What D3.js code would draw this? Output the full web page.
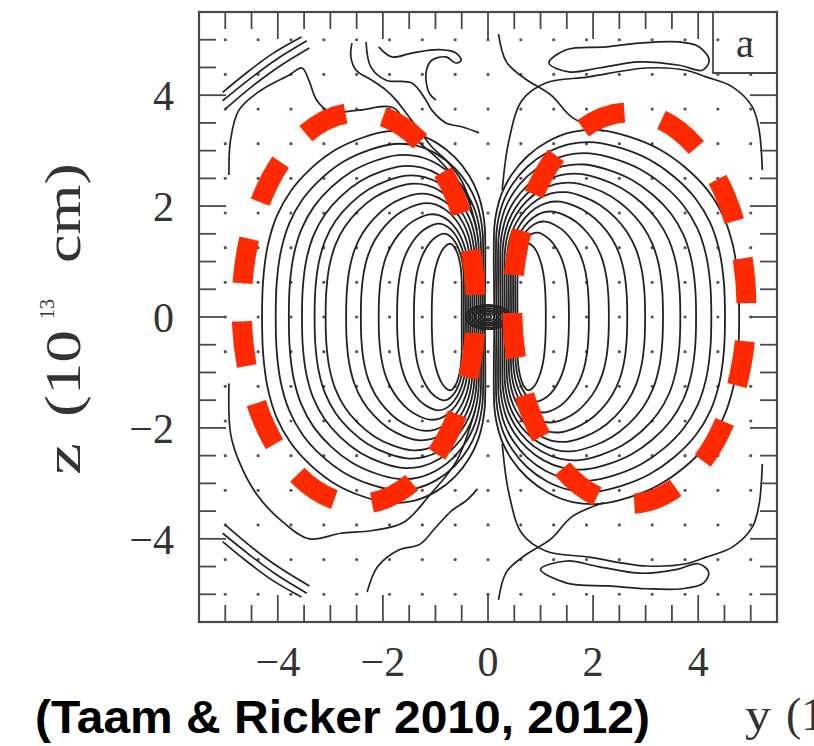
<!DOCTYPE html>
<html><head><meta charset="utf-8">
<script src="https://cdn.jsdelivr.net/npm/d3@7"></script>
<style>html,body{margin:0;padding:0;background:#fff;}svg{display:block;}</style>
</head><body>
<svg id="c" width="814" height="746"></svg>
<script>
// ---------- data (units of 10^13 cm) ----------
const tickValues = [-4, -2, 0, 2, 4];
const minorTicks = [-5,-4.5,-4,-3.5,-3,-2.5,-2,-1.5,-1,-0.5,0,0.5,1,1.5,2,2.5,3,3.5,4,4.5,5];
const dotGrid = [-5,-4.375,-3.75,-3.125,-2.5,-1.875,-1.25,-0.625,0,0.625,1.25,1.875,2.5,3.125,3.75,4.375,5];

// nested lobes: outer extent at z=0, top height, x where lobe joins the central band
const leftOuterX  = [-4.30,-4.04,-3.79,-3.54,-3.30,-3.09,-2.70,-2.42,-2.08,-1.73,-1.41,-1.07];
const leftTop     = [3.35,3.12,2.92,2.72,2.55,2.40,2.22,2.05,1.85,1.68,1.50,1.32];
const leftInnerX  = [-0.06,-0.10,-0.14,-0.18,-0.22,-0.26,-0.30,-0.34,-0.38,-0.42,-0.46,-0.50];
const rightOuterX = [4.78,4.51,4.25,3.96,3.66,3.33,2.99,2.65,2.30,1.92,1.54,1.10];
const rightTop    = [3.37,3.15,2.95,2.75,2.58,2.42,2.25,2.08,1.90,1.72,1.52,1.32];
const rightInnerX = [0.12,0.16,0.20,0.24,0.28,0.32,0.36,0.40,0.44,0.48,0.52,0.56];
// lobe outline (fraction of width from band, fraction of height), upper half
const lobeShape = [[1,0],[0.995,0.2],[0.975,0.38],[0.935,0.54],[0.87,0.68],[0.78,0.8],[0.67,0.9],[0.55,0.965],[0.43,1.0],[0.32,0.99],[0.22,0.94],[0.135,0.86],[0.07,0.76],[0.03,0.66],[0.01,0.57],[0,0.48]];

// central blob
const blobRx = [0.42,0.36,0.30,0.24,0.18,0.12,0.06];
const blobRy = [0.22,0.19,0.16,0.13,0.10,0.07,0.04];

// outer contours (open lines)
const outerLines = [
  [[-5.05,4.05],[-4.6,4.4],[-4.1,4.75],[-3.55,5.05]],
  [[-5.05,3.9],[-4.55,4.28],[-4.05,4.63],[-3.45,4.98]],
  [[-5.0,3.75],[-4.5,4.15],[-4.0,4.5],[-3.4,4.85]],
  [[-5.05,-4.05],[-4.6,-4.4],[-4.1,-4.75],[-3.55,-5.05]],
  [[-5.05,-3.9],[-4.55,-4.28],[-4.05,-4.63],[-3.45,-4.98]],
  [[-5.0,-3.75],[-4.5,-4.15],[-4.0,-4.5],[-3.4,-4.85]],
  [[-4.93,2.56],[-4.90,3.19],[-4.74,3.73],[-4.32,4.09],[-3.79,4.36],[-3.54,4.49],[-3.41,4.27],[-3.26,3.91],[-3.0,3.70],[-2.46,3.73],[-1.79,3.77],[-1.45,3.28],[-0.93,2.83],[-0.46,2.29],[-0.21,1.57]],
  [[-4.93,-1.2],[-4.90,-2.1],[-4.74,-2.6],[-4.4,-3.2],[-3.9,-3.7],[-3.4,-4.0],[-2.8,-3.9],[-2.2,-3.85],[-1.6,-3.7],[-1.1,-3.2],[-0.6,-2.6],[-0.25,-1.7]],
  [[-2.59,4.94],[-2.61,4.69],[-2.51,4.45],[-2.21,4.27],[-1.94,4.09],[-1.75,3.91],[-1.56,3.68],[-1.31,3.37],[-1.07,3.07],[-0.8,2.83],[-0.51,2.47],[-0.32,2.02]],
  [[-2.32,4.96],[-2.23,4.51],[-1.94,4.27],[-1.45,4.22],[-1.18,3.91],[-1.07,3.73],[-0.80,3.50],[-0.50,3.43],[-0.17,3.32]],
  [[-2.08,4.87],[-1.83,4.69],[-1.45,4.76],[-0.93,4.82],[-0.61,4.76],[-0.51,4.63],[-0.61,4.58],[-0.8,4.69],[-1.07,4.63],[-1.18,4.40],[-1.12,4.04],[-0.99,3.91]],
  [[-2.3,-4.96],[-2.1,-4.5],[-1.7,-4.2],[-1.3,-4.1],[-1.0,-3.8],[-0.7,-3.5],[-0.4,-3.3],[-0.2,-3.1]],
  [[5.22,2.65],[5.16,3.37],[5.03,3.79],[4.65,4.15],[4.15,4.33],[3.77,4.45],[3.01,4.49],[1.92,4.33],[1.10,4.22],[0.65,3.91],[0.4,3.19],[0.27,2.29]],
  [[5.22,-2.65],[5.16,-3.37],[5.03,-3.79],[4.65,-4.15],[4.15,-4.33],[3.77,-4.45],[3.01,-4.49],[1.92,-4.33],[1.10,-4.22],[0.65,-3.91],[0.4,-3.19],[0.27,-2.29]],
  [[0.2,5.1],[0.35,4.6],[0.7,4.3],[1.2,4.0],[1.6,3.6],[2.2,3.35]],
  [[0.2,-5.1],[0.35,-4.6],[0.7,-4.3],[1.2,-4.0],[1.6,-3.6],[2.2,-3.35]]
];
// outer closed loops
const outerLoops = [
  [[1.16,4.58],[1.49,4.82],[2.25,4.87],[2.88,4.94],[3.64,4.96],[4.02,4.87],[4.21,4.63],[4.08,4.45],[3.64,4.54],[2.88,4.60],[2.11,4.49],[1.54,4.42]],
  [[1.0,-4.55],[1.5,-4.8],[2.3,-4.85],[3.0,-4.9],[3.7,-4.9],[4.1,-4.8],[4.2,-4.6],[4.0,-4.45],[3.6,-4.55],[2.9,-4.62],[2.1,-4.5],[1.5,-4.4]]
];

// overlay ellipses: centre x, centre z, half-width, half-height
const ringCx = [-2.46, 2.69];
const ringCz = [0.16, 0.16];
const ringRx = [2.23, 2.23];
const ringRz = [3.53, 3.53];
const ringPhase = [-30, -40];

// ---------- drawing ----------
const svg = d3.select("#c");
const x = d3.scaleLinear().domain([-5.5,5.5]).range([199,777]);
const y = d3.scaleLinear().domain([-5.5,5.5]).range([622,12]);
const ink = "#222";
const frameCol = "#4a4a4a";

const g = svg.append("g");
const line = d3.line().x(d=>x(d[0])).y(d=>y(d[1])).curve(d3.curveCatmullRom.alpha(0.5));
const closed = d3.line().x(d=>x(d[0])).y(d=>y(d[1])).curve(d3.curveCatmullRomClosed.alpha(0.5));

// dots
dotGrid.forEach(dx => dotGrid.forEach(dz => {
  g.append("circle").attr("cx", x(dx)).attr("cy", y(dz)).attr("r", 1.6).attr("fill", "#555");
}));

// lobes
function lobe(outer, top, inner, side) {
  const W = Math.abs(outer - inner);
  const upper = lobeShape.map(([u,v]) => [inner + side*u*W, v*top]);
  const lower = lobeShape.map(([u,v]) => [inner + side*u*W, -v*top]).reverse().slice(0,-1);
  return upper.concat([[inner,0]], lower);
}
leftOuterX.forEach((o,i) => {
  g.append("path").attr("d", closed(lobe(o, leftTop[i], leftInnerX[i], -1)))
   .attr("fill","none").attr("stroke",ink).attr("stroke-width",1.8);
});
rightOuterX.forEach((o,i) => {
  g.append("path").attr("d", closed(lobe(o, rightTop[i], rightInnerX[i], 1)))
   .attr("fill","none").attr("stroke",ink).attr("stroke-width",1.8);
});
outerLines.forEach(l => {
  g.append("path").attr("d", line(l)).attr("fill","none").attr("stroke",ink).attr("stroke-width",1.7);
});
outerLoops.forEach(l => {
  g.append("path").attr("d", closed(l)).attr("fill","none").attr("stroke",ink).attr("stroke-width",1.7);
});
blobRx.forEach((r,i) => {
  g.append("ellipse").attr("cx", x(0)).attr("cy", y(0))
   .attr("rx", x(r)-x(0)).attr("ry", y(0)-y(blobRy[i]))
   .attr("fill","none").attr("stroke",ink).attr("stroke-width",1.8);
});

// frame
svg.append("rect").attr("x",199).attr("y",12).attr("width",578).attr("height",610)
  .attr("fill","none").attr("stroke",frameCol).attr("stroke-width",2.2);
// label box
const boxL = 713, boxB = 73;
svg.append("path").attr("d",`M${boxL},12V${boxB}H777`).attr("fill","none").attr("stroke",frameCol).attr("stroke-width",1.8);
svg.append("text").attr("x",745).attr("y",57).attr("text-anchor","middle")
  .attr("font-family","Liberation Serif, serif").attr("font-size",40).attr("fill","#333").text("a");

// ticks
const tk = svg.append("g").attr("stroke",frameCol).attr("stroke-width",1.8);
minorTicks.forEach(t => {
  const L = tickValues.includes(t) ? 27 : 17;
  tk.append("line").attr("x1",x(t)).attr("x2",x(t)).attr("y1",622).attr("y2",622-L);
  if (x(t) < boxL - 2) tk.append("line").attr("x1",x(t)).attr("x2",x(t)).attr("y1",12).attr("y2",12+L);
  tk.append("line").attr("x1",199).attr("x2",199+L).attr("y1",y(t)).attr("y2",y(t));
  if (y(t) > boxB + 2) tk.append("line").attr("x1",777).attr("x2",777-L).attr("y1",y(t)).attr("y2",y(t));
});

// tick labels
const fmt = v => v < 0 ? "\u2212" + Math.abs(v) : String(v);
const lab = svg.append("g").attr("font-family","Liberation Serif, serif").attr("font-size",42).attr("fill","#333");
tickValues.forEach(t => {
  lab.append("text").attr("x", x(t)).attr("y", 676).attr("text-anchor","middle").text(fmt(t));
  lab.append("text").attr("x", 174).attr("y", y(t)+15).attr("text-anchor","end").text(fmt(t));
});

// axis titles (z title rotated)
const serif = "Liberation Serif, serif";
const zg = svg.append("g").attr("transform","translate(80,475) rotate(-90)")
  .attr("font-family",serif).attr("fill","#333");
zg.append("text").attr("x",0).attr("y",0).attr("font-size",50).attr("textLength",32).attr("lengthAdjust","spacingAndGlyphs").text("z");
zg.append("text").attr("x",58).attr("y",0).attr("font-size",50).attr("textLength",87).attr("lengthAdjust","spacingAndGlyphs").text("(10");
zg.append("text").attr("x",156).attr("y",-26).attr("font-size",21).attr("textLength",20).attr("lengthAdjust","spacingAndGlyphs").text("13");
zg.append("text").attr("x",212).attr("y",0).attr("font-size",50).attr("textLength",100).attr("lengthAdjust","spacingAndGlyphs").text("cm)");

const yg = svg.append("g").attr("font-family",serif).attr("fill","#333");
yg.append("text").attr("x",745).attr("y",730).attr("font-size",46).attr("textLength",26).attr("lengthAdjust","spacingAndGlyphs").text("y");
yg.append("text").attr("x",786).attr("y",730).attr("font-size",46).text("(10");

// caption
svg.append("text").attr("x",35).attr("y",733)
  .attr("font-family","Liberation Sans, Arial, sans-serif").attr("font-weight","bold")
  .attr("font-size",46).attr("fill","#000").attr("textLength",615).attr("lengthAdjust","spacingAndGlyphs")
  .text("(Taam & Ricker 2010, 2012)");

// red dashed rings (path starts at the rightmost point and runs clockwise)
ringCx.forEach((c,i) => {
  const cx = x(c), cy = y(ringCz[i]);
  const rx = x(c+ringRx[i]) - x(c), ry = y(0) - y(ringRz[i]);
  const d = `M${cx+rx},${cy}A${rx},${ry} 0 1 1 ${cx-rx},${cy}A${rx},${ry} 0 1 1 ${cx+rx},${cy}Z`;
  svg.append("path").attr("d", d).attr("pathLength",1200)
    .attr("fill","none").attr("stroke","#ff2a00").attr("stroke-width",20)
    .attr("stroke-dasharray","54 46").attr("stroke-dashoffset", ringPhase[i]);
});
</script>
</body></html>
